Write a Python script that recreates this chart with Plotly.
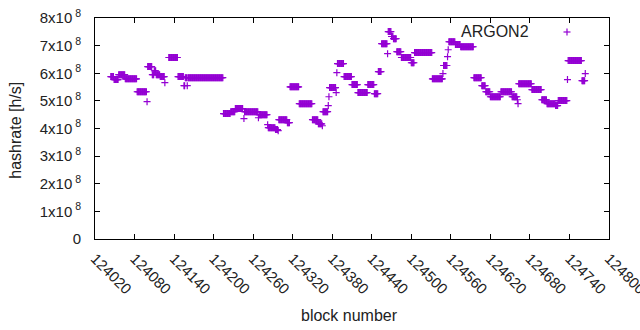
import plotly.graph_objects as go

# Runs of constant hashrate (block start, block end, hashrate in units of 1e8 h/s)
run_start = [124044, 124049, 124056, 124066, 124084, 124099, 124100, 124107, 124110, 124113,
             124119, 124126, 124132, 124146, 124155, 124157, 124160, 124161, 124215, 124226,
             124233, 124246, 124247, 124268, 124269, 124282, 124283, 124294, 124298, 124299,
             124312, 124316, 124330, 124350, 124359, 124365, 124366, 124374, 124375, 124376,
             124386, 124387, 124388, 124398, 124410, 124419, 124434, 124444, 124450, 124455,
             124464, 124465, 124470, 124473, 124478, 124485, 124500, 124505, 124532, 124548,
             124549, 124555, 124556, 124557, 124567, 124575, 124595, 124607, 124613, 124614,
             124620, 124636, 124653, 124661, 124662, 124663, 124683, 124698, 124706, 124719,
             124723, 124737, 124738, 124759, 124764]
run_end = [124048, 124055, 124065, 124083, 124098, 124099, 124106, 124109, 124112, 124118,
           124125, 124126, 124145, 124154, 124156, 124159, 124160, 124214, 124225, 124232,
           124244, 124246, 124267, 124268, 124281, 124282, 124293, 124297, 124298, 124311,
           124315, 124329, 124349, 124358, 124364, 124365, 124373, 124374, 124375, 124385,
           124386, 124387, 124397, 124409, 124418, 124433, 124443, 124449, 124454, 124463,
           124464, 124469, 124472, 124477, 124484, 124499, 124504, 124531, 124547, 124548,
           124554, 124555, 124556, 124566, 124574, 124594, 124606, 124612, 124613, 124619,
           124635, 124652, 124660, 124661, 124662, 124682, 124697, 124705, 124718, 124722,
           124736, 124737, 124758, 124763, 124764]
run_value = [5.88, 5.77, 5.95, 5.80, 5.33, 4.97, 6.24, 5.95, 6.09, 5.95,
             5.88, 5.66, 6.57, 5.88, 5.55, 5.84, 5.55, 5.84, 4.54, 4.61,
             4.72, 4.36, 4.61, 4.39, 4.50, 4.14, 4.03, 3.96, 3.92, 4.32,
             4.21, 5.51, 4.90, 4.32, 4.17, 4.10, 4.61, 4.83, 5.15, 5.48,
             5.30, 6.02, 6.35, 5.88, 5.59, 5.30, 5.59, 5.26, 6.06, 7.07,
             6.71, 7.51, 7.33, 7.25, 6.78, 6.57, 6.38, 6.75, 5.80, 5.99,
             6.28, 6.60, 6.85, 7.14, 7.04, 6.96, 5.84, 5.55, 5.33, 5.33,
             5.15, 5.33, 5.15, 5.04, 4.90, 5.62, 5.41, 5.04, 4.90, 4.83,
             5.01, 5.77, 6.46, 5.73, 5.99]

x_tick_vals = [124020 + 60 * i for i in range(14)]
y_tick_vals = [i * 1e8 for i in range(9)]
y_tick_text = ["0"] + [f"{i}x10<sup> 8</sup>" for i in range(1, 9)]
series_name = "ARGON2"

blocks, rates = [], []
for s, e, v in zip(run_start, run_end, run_value):
    for b in range(s, e + 1):
        blocks.append(b)
        rates.append(v * 1e8)

color = "#9400D3"
font = "Liberation Sans, Arial, sans-serif"

# plot area in pixels
L, R, T, B = 95, 609, 18, 239
W, H = R - L, B - T

fig = go.Figure()
fig.add_trace(go.Scatter(
    x=blocks, y=rates, mode="markers", name=series_name,
    marker=dict(symbol="cross-thin", size=5, color=color,
                line=dict(color=color, width=1.2)),
    showlegend=False,
))

# legend key (gnuplot style: text then symbol)
kx, ky, arm = (567 - L) / W, (B - 32) / H, 3.5
legend_shapes = [
    dict(type="line", xref="paper", yref="paper", x0=kx - arm / W, x1=kx + arm / W,
         y0=ky, y1=ky, line=dict(color=color, width=1.2)),
    dict(type="line", xref="paper", yref="paper", x0=kx, x1=kx,
         y0=ky - arm / H, y1=ky + arm / H, line=dict(color=color, width=1.2)),
]

fig.update_layout(
    width=640, height=330,
    margin=dict(l=L, r=640 - R, t=T, b=330 - B, autoexpand=False),
    paper_bgcolor="white", plot_bgcolor="white",
    font=dict(family=font, size=15, color="#222"),
    showlegend=False,
    shapes=legend_shapes,
    annotations=[
        dict(text=series_name, xref="paper", yref="paper",
             x=(531 - L) / W, y=(B - 31) / H, xanchor="right", yanchor="middle",
             showarrow=False, font=dict(size=16, color="#222")),
        dict(text="hashrate [h/s]", xref="paper", yref="paper", x=0, y=0.49,
             xshift=16 - L, xanchor="center", yanchor="middle", textangle=-90,
             showarrow=False, font=dict(size=16, color="#222")),
        dict(text="block number", xref="paper", yref="paper", x=(349 - L) / W, y=0,
             yshift=-(315 - B), xanchor="center", yanchor="middle",
             showarrow=False, font=dict(size=16, color="#222")),
    ],
)
fig.update_xaxes(
    range=[124020, 124800], tickvals=x_tick_vals,
    ticktext=[str(v) for v in x_tick_vals], tickangle=45,
    ticks="inside", ticklen=5, tickcolor="black", tickwidth=1,
    showline=True, linecolor="black", linewidth=1, mirror="ticks",
    showgrid=False, zeroline=False, automargin=False,
    tickfont=dict(size=15), ticklabelstandoff=4, ticklabeloverflow="allow",
)
fig.update_yaxes(
    range=[0, 8e8], tickvals=y_tick_vals, ticktext=y_tick_text,
    ticks="inside", ticklen=5, tickcolor="black", tickwidth=1,
    showline=True, linecolor="black", linewidth=1, mirror="ticks",
    showgrid=False, zeroline=False, automargin=False,
    tickfont=dict(size=15), ticklabelstandoff=10, ticklabeloverflow="allow",
)

fig.write_html("out.html", config={"displayModeBar": False},
               post_script="document.body.style.margin='0px';")
